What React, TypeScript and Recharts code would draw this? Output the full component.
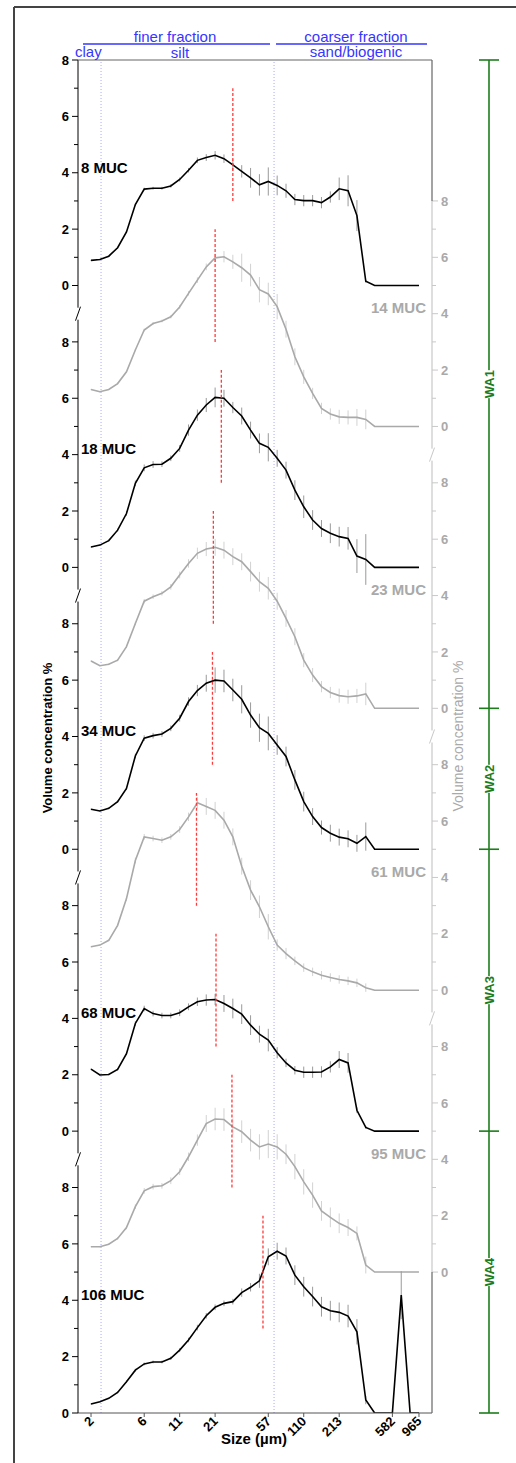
import { LineChart, Line, XAxis, YAxis, ErrorBar, ReferenceLine } from 'recharts'

// x positions are size-bin indices (log-spaced bins, 2 µm .. 965 µm)
const sizeTicks = [0, 6, 10, 14, 20, 24, 28, 34, 37]
const sizeLabels = ['2', '6', '11', '21', '57', '110', '213', '582', '965']
const fractionBounds = [1.13, 20.65] // clay|silt, silt|sand (bin index)

const muc8 = [0.89, 0.92, 1.04, 1.34, 1.9, 2.87, 3.42, 3.45, 3.45, 3.53, 3.76, 4.09, 4.44, 4.54, 4.62, 4.5, 4.28, 4.05, 3.82, 3.57, 3.69, 3.55, 3.36, 3.05, 3.01, 3.01, 2.94, 3.14, 3.43, 3.36, 2.48, 0.15, 0, 0, 0, 0, 0, 0]
const err8 = [0.02, 0.02, 0.02, 0.03, 0.03, 0.04, 0.05, 0.05, 0.05, 0.06, 0.07, 0.08, 0.1, 0.12, 0.15, 0.15, 0.2, 0.22, 0.35, 0.38, 0.5, 0.35, 0.25, 0.2, 0.2, 0.2, 0.2, 0.2, 0.4, 0.55, 0.55, 0.05, 0, 0, 0, 0, 0, 0]
const muc14 = [1.31, 1.23, 1.31, 1.52, 1.94, 2.71, 3.42, 3.65, 3.74, 3.89, 4.24, 4.72, 5.19, 5.66, 5.98, 6.02, 5.84, 5.63, 5.37, 4.85, 4.7, 4.25, 3.45, 2.47, 1.76, 1.17, 0.64, 0.44, 0.34, 0.32, 0.32, 0.25, 0, 0, 0, 0, 0, 0]
const err14 = [0.02, 0.02, 0.02, 0.03, 0.03, 0.04, 0.05, 0.05, 0.05, 0.06, 0.07, 0.08, 0.1, 0.12, 0.15, 0.2, 0.25, 0.5, 0.4, 0.45, 0.4, 0.45, 0.3, 0.3, 0.25, 0.2, 0.2, 0.2, 0.25, 0.25, 0.3, 0.35, 0, 0, 0, 0, 0, 0]
const muc18 = [0.72, 0.79, 0.95, 1.32, 1.91, 2.98, 3.53, 3.65, 3.66, 3.87, 4.22, 4.87, 5.4, 5.76, 6.03, 6.0, 5.67, 5.37, 4.87, 4.4, 4.26, 3.87, 3.45, 2.74, 2.15, 1.68, 1.38, 1.21, 1.09, 1.03, 0.4, 0.28, 0, 0, 0, 0, 0, 0]
const err18 = [0.02, 0.02, 0.03, 0.05, 0.08, 0.1, 0.12, 0.12, 0.1, 0.1, 0.12, 0.2, 0.2, 0.25, 0.35, 0.3, 0.2, 0.3, 0.3, 0.35, 0.5, 0.3, 0.3, 0.35, 0.4, 0.35, 0.3, 0.35, 0.35, 0.4, 0.6, 0.9, 0, 0, 0, 0, 0, 0]
const muc23 = [1.68, 1.51, 1.56, 1.71, 2.19, 3.01, 3.8, 3.96, 4.08, 4.31, 4.73, 5.14, 5.5, 5.65, 5.71, 5.61, 5.38, 5.2, 4.85, 4.49, 4.26, 3.8, 3.19, 2.54, 1.71, 1.18, 0.77, 0.56, 0.45, 0.41, 0.44, 0.51, 0, 0, 0, 0, 0, 0]
const err23 = [0.02, 0.02, 0.03, 0.04, 0.05, 0.06, 0.08, 0.08, 0.08, 0.1, 0.12, 0.15, 0.2, 0.25, 0.3, 0.3, 0.3, 0.3, 0.35, 0.35, 0.4, 0.3, 0.3, 0.3, 0.25, 0.25, 0.2, 0.2, 0.25, 0.25, 0.25, 0.4, 0, 0, 0, 0, 0, 0]
const muc34 = [1.42, 1.36, 1.45, 1.69, 2.16, 3.31, 3.94, 4.03, 4.09, 4.29, 4.65, 5.24, 5.63, 5.89, 6.0, 5.97, 5.65, 5.32, 4.76, 4.31, 4.11, 3.7, 3.29, 2.46, 1.69, 1.16, 0.77, 0.57, 0.43, 0.37, 0.21, 0.45, 0, 0, 0, 0, 0, 0]
const err34 = [0.02, 0.02, 0.03, 0.04, 0.06, 0.08, 0.1, 0.1, 0.1, 0.1, 0.12, 0.15, 0.2, 0.3, 0.45, 0.4, 0.4, 0.5, 0.45, 0.5, 0.6, 0.35, 0.35, 0.35, 0.35, 0.3, 0.25, 0.3, 0.3, 0.3, 0.3, 0.5, 0, 0, 0, 0, 0, 0]
const muc61 = [1.54, 1.6, 1.77, 2.3, 3.25, 4.6, 5.44, 5.38, 5.32, 5.44, 5.7, 6.15, 6.65, 6.52, 6.38, 6.03, 5.44, 4.4, 3.55, 2.96, 2.25, 1.6, 1.3, 1.04, 0.8, 0.65, 0.53, 0.45, 0.38, 0.33, 0.26, 0.09, 0, 0, 0, 0, 0, 0]
const err61 = [0.02, 0.02, 0.03, 0.05, 0.08, 0.1, 0.1, 0.1, 0.1, 0.1, 0.12, 0.15, 0.2, 0.3, 0.3, 0.3, 0.3, 0.3, 0.35, 0.4, 0.45, 0.2, 0.2, 0.15, 0.15, 0.15, 0.15, 0.15, 0.15, 0.15, 0.15, 0.15, 0, 0, 0, 0, 0, 0]
const muc68 = [2.2, 1.99, 2.01, 2.19, 2.75, 3.82, 4.35, 4.17, 4.1, 4.1, 4.2, 4.41, 4.59, 4.65, 4.67, 4.53, 4.35, 4.15, 3.76, 3.44, 3.23, 2.78, 2.42, 2.16, 2.09, 2.09, 2.1, 2.28, 2.54, 2.42, 0.74, 0.13, 0, 0, 0, 0, 0, 0]
const err68 = [0.02, 0.02, 0.03, 0.04, 0.05, 0.08, 0.1, 0.1, 0.1, 0.1, 0.12, 0.12, 0.15, 0.2, 0.2, 0.3, 0.35, 0.35, 0.35, 0.3, 0.4, 0.2, 0.15, 0.15, 0.2, 0.2, 0.2, 0.2, 0.3, 0.35, 0.1, 0.05, 0, 0, 0, 0, 0, 0]
const muc95 = [0.9, 0.9, 0.99, 1.19, 1.58, 2.32, 2.88, 3.03, 3.06, 3.24, 3.56, 4.09, 4.68, 5.27, 5.43, 5.41, 5.15, 4.98, 4.68, 4.44, 4.54, 4.44, 4.18, 3.74, 3.2, 2.73, 2.17, 1.94, 1.73, 1.58, 1.37, 0.25, 0, 0, 0, 0, 0, 0]
const err95 = [0.02, 0.02, 0.03, 0.04, 0.06, 0.08, 0.1, 0.1, 0.1, 0.12, 0.12, 0.15, 0.2, 0.3, 0.4, 0.4, 0.3, 0.4, 0.4, 0.45, 0.5, 0.45, 0.35, 0.45, 0.45, 0.45, 0.35, 0.35, 0.35, 0.3, 0.25, 0.3, 0, 0, 0, 0, 0, 0]
const muc106 = [0.32, 0.4, 0.52, 0.73, 1.11, 1.52, 1.74, 1.81, 1.81, 1.94, 2.23, 2.59, 3.03, 3.45, 3.75, 3.89, 3.95, 4.27, 4.46, 4.69, 5.54, 5.74, 5.57, 4.89, 4.48, 4.13, 3.77, 3.63, 3.57, 3.44, 2.88, 0.46, 0, 0, 0, 4.18, 0, 0]
const err106 = [0.02, 0.02, 0.02, 0.03, 0.04, 0.05, 0.05, 0.05, 0.05, 0.06, 0.07, 0.08, 0.1, 0.1, 0.1, 0.1, 0.1, 0.15, 0.15, 0.25, 0.3, 0.3, 0.3, 0.35, 0.35, 0.35, 0.35, 0.35, 0.35, 0.4, 0.45, 0.15, 0, 0, 0, 0.85, 0, 0]

// median grain size (bin index), one per core
const medians = [16.0, 14.0, 14.7, 13.8, 13.7, 11.9, 14.1, 15.9, 19.4]

const waNames = ['WA1', 'WA2', 'WA3', 'WA4']
const waBounds = [48, 25, 20, 10, 0]

// stacking: black cores on left axis, grey cores on right axis
const series = [
  { key: 'm8', name: '8 MUC', values: muc8, errors: err8, offset: 40, gray: false },
  { key: 'm14', name: '14 MUC', values: muc14, errors: err14, offset: 35, gray: true },
  { key: 'm18', name: '18 MUC', values: muc18, errors: err18, offset: 30, gray: false },
  { key: 'm23', name: '23 MUC', values: muc23, errors: err23, offset: 25, gray: true },
  { key: 'm34', name: '34 MUC', values: muc34, errors: err34, offset: 20, gray: false },
  { key: 'm61', name: '61 MUC', values: muc61, errors: err61, offset: 15, gray: true },
  { key: 'm68', name: '68 MUC', values: muc68, errors: err68, offset: 10, gray: false },
  { key: 'm95', name: '95 MUC', values: muc95, errors: err95, offset: 5, gray: true },
  { key: 'm106', name: '106 MUC', values: muc106, errors: err106, offset: 0, gray: false },
]

const data = muc8.map((_, i) => {
  const row: Record<string, number> = { i }
  series.forEach(s => {
    row[s.key] = s.values[i] + s.offset
    row[s.key + 'e'] = s.errors[i]
  })
  return row
})

const W = 516
const H = 1463
const PLOT = { left: 78, right: 432, top: 60, bottom: 1413 }
const Y_MAX = 48
const yPx = (v: number) => PLOT.top + ((Y_MAX - v) / Y_MAX) * (PLOT.bottom - PLOT.top)

const leftOffsets = [0, 10, 20, 30, 40]
const rightOffsets = [5, 15, 25, 35]
const leftTicks = leftOffsets.flatMap(o => [0, 1, 2, 3, 4, 5, 6, 7, 8].map(v => o + v))
const rightTicks = rightOffsets.flatMap(o => [0, 1, 2, 3, 4, 5, 6, 7, 8].map(v => o + v))

const FONT = '"Liberation Sans", Arial, Helvetica, sans-serif'
const GRAY = '#a9a9a9'
const LIGHT = '#c8c8c8'
const BLUE = '#3636ff'
const GREEN = '#1d7d1d'

function LeftTick(props: any) {
  const { x, y, payload } = props
  const local = Math.round(payload.value) % 10
  const ax = x + 9
  const major = local % 2 === 0
  return (
    <g>
      <line x1={ax - (major ? 6 : 4)} x2={ax} y1={y} y2={y} stroke="#000" strokeWidth={1} />
      {major && (
        <text x={x} y={y} dy="0.36em" textAnchor="end" fontSize={13} fontWeight="bold" fill="#000" fontFamily={FONT}>
          {local}
        </text>
      )}
    </g>
  )
}

function RightTick(props: any) {
  const { x, y, payload } = props
  const local = (((Math.round(payload.value) - 5) % 10) + 10) % 10
  const ax = x - 9
  const major = local % 2 === 0
  return (
    <g>
      <line x1={ax} x2={ax + (major ? 6 : 4)} y1={y} y2={y} stroke={LIGHT} strokeWidth={1} />
      {major && (
        <text x={x} y={y} dy="0.36em" textAnchor="start" fontSize={13} fontWeight="bold" fill={GRAY} fontFamily={FONT}>
          {local}
        </text>
      )}
    </g>
  )
}

function SizeTick(props: any) {
  const { x, y, payload } = props
  const label = sizeLabels[sizeTicks.indexOf(payload.value)]
  const ax = x + 3.5
  const ay = y + 5
  return (
    <g>
      <line x1={x} x2={x} y1={y - 4} y2={y} stroke="#555" strokeWidth={1} />
      <text x={ax} y={ay} textAnchor="end" fontSize={13} fontWeight="bold" fill="#000" fontFamily={FONT}
        transform={`rotate(-45 ${ax} ${ay})`}>
        {label}
      </text>
    </g>
  )
}

function Break({ x, v, color }: { x: number; v: number; color: string }) {
  const y = yPx(v)
  return (
    <g>
      <rect x={x - 3} y={y - 6} width={6} height={12} fill="#fff" />
      <line x1={x - 2.5} y1={y + 7} x2={x + 2.5} y2={y - 7} stroke={color} strokeWidth={1} />
    </g>
  )
}

export default function App() {
  return (
    <div style={{ position: 'absolute', left: 0, top: 0, width: W, height: H, background: '#fff', fontFamily: FONT, overflow: 'hidden' }}>
      <LineChart width={W} height={H} data={data} margin={{ top: 60, right: 54, bottom: 0, left: 48 }}>
        <XAxis
          dataKey="i"
          type="number"
          domain={[-1.47, 38.47]}
          allowDataOverflow
          ticks={sizeTicks}
          interval={0}
          height={50}
          tickSize={4}
          tickMargin={0}
          tickLine={false}
          axisLine={{ stroke: '#555', strokeWidth: 1 }}
          tick={<SizeTick />}
        />
        <YAxis
          yAxisId="left"
          orientation="left"
          type="number"
          domain={[0, Y_MAX]}
          allowDataOverflow
          ticks={leftTicks}
          interval={0}
          width={30}
          tickSize={6}
          tickMargin={3}
          tickLine={false}
          axisLine={{ stroke: '#000', strokeWidth: 1 }}
          tick={<LeftTick />}
        />
        <YAxis
          yAxisId="right"
          orientation="right"
          type="number"
          domain={[0, Y_MAX]}
          allowDataOverflow
          ticks={rightTicks}
          interval={0}
          width={30}
          tickSize={6}
          tickMargin={3}
          tickLine={false}
          axisLine={false}
          tick={<RightTick />}
        />
        {fractionBounds.map(b => (
          <ReferenceLine key={'fb' + b} yAxisId="left" x={b} stroke="#a9a9ff" strokeWidth={1} strokeDasharray="1 2" />
        ))}
        {series.map(s => (
          <Line
            key={s.key}
            yAxisId={s.gray ? 'right' : 'left'}
            dataKey={s.key}
            type="linear"
            stroke={s.gray ? GRAY : '#000'}
            strokeWidth={1.6}
            dot={false}
            activeDot={false}
            isAnimationActive={false}
          >
            <ErrorBar dataKey={s.key + 'e'} width={0} stroke={s.gray ? '#d2d2d2' : '#9a9a9a'} strokeWidth={1} direction="y" />
          </Line>
        ))}
        {series.map((s, k) => (
          <ReferenceLine
            key={'med' + s.key}
            yAxisId={s.gray ? 'right' : 'left'}
            segment={[{ x: medians[k], y: s.offset + 3 }, { x: medians[k], y: s.offset + 7 }]}
            stroke="#ff3a3a"
            strokeWidth={1.3}
            strokeDasharray="3 2"
            ifOverflow="visible"
          />
        ))}
      </LineChart>

      <svg width={W} height={H} style={{ position: 'absolute', left: 0, top: 0, pointerEvents: 'none' }} fontFamily={FONT}>
        {/* outer frame */}
        <line x1={14} y1={7} x2={W} y2={7} stroke="#444" strokeWidth={2} />
        <line x1={14} y1={7} x2={14} y2={H} stroke="#444" strokeWidth={2} />

        {/* plot box top + right edge */}
        <line x1={PLOT.left} y1={PLOT.top} x2={PLOT.right} y2={PLOT.top} stroke="#666" strokeWidth={1.2} />
        <line x1={PLOT.right} y1={PLOT.top} x2={PLOT.right} y2={yPx(43)} stroke="#666" strokeWidth={1.2} />
        <line x1={PLOT.right} y1={yPx(43)} x2={PLOT.right} y2={yPx(5)} stroke={LIGHT} strokeWidth={1.2} />
        <line x1={PLOT.right} y1={yPx(5)} x2={PLOT.right} y2={PLOT.bottom} stroke="#666" strokeWidth={1.2} />

        {/* axis breaks */}
        {[39, 29, 19, 9].map(v => <Break key={'lb' + v} x={PLOT.left} v={v} color="#000" />)}
        {[34, 24, 14].map(v => <Break key={'rb' + v} x={PLOT.right} v={v} color={LIGHT} />)}

        {/* fraction header */}
        <text x={175} y={42} textAnchor="middle" fontSize={15} fill={BLUE}>finer fraction</text>
        <line x1={83} y1={44} x2={270} y2={44} stroke={BLUE} strokeWidth={1.5} />
        <text x={356} y={42} textAnchor="middle" fontSize={15} fill={BLUE}>coarser fraction</text>
        <line x1={276} y1={44} x2={427} y2={44} stroke={BLUE} strokeWidth={1.5} />
        <text x={75} y={57} fontSize={15} fill={BLUE}>clay</text>
        <text x={180} y={58} textAnchor="middle" fontSize={15} fill={BLUE}>silt</text>
        <text x={356} y={57} textAnchor="middle" fontSize={15} fill={BLUE}>sand/biogenic</text>

        {/* core labels */}
        {series.map(s =>
          s.gray ? (
            <text key={'lab' + s.key} x={426} y={yPx(s.offset + 4.2)} dy="0.36em" textAnchor="end" fontSize={15} fontWeight="bold" fill={GRAY}>
              {s.name}
            </text>
          ) : (
            <text key={'lab' + s.key} x={81} y={yPx(s.offset + 4.2)} dy="0.36em" textAnchor="start" fontSize={15} fontWeight="bold" fill="#000">
              {s.name}
            </text>
          )
        )}

        {/* axis titles */}
        <text x={47} y={738} textAnchor="middle" dy="0.36em" fontSize={13} fontWeight="bold" fill="#000" transform="rotate(-90 47 738)">
          Volume concentration %
        </text>
        <text x={458} y={736} textAnchor="middle" dy="0.36em" fontSize={14} fill={GRAY} transform="rotate(-90 458 736)">
          Volume concentration %
        </text>
        <text x={254} y={1444} textAnchor="middle" fontSize={15} fontWeight="bold" fill="#000">Size (µm)</text>

        {/* WA zones */}
        <line x1={489} y1={yPx(waBounds[0])} x2={489} y2={yPx(waBounds[waBounds.length - 1])} stroke={GREEN} strokeWidth={1.6} />
        {waBounds.map(b => (
          <line key={'wab' + b} x1={479} x2={499} y1={yPx(b)} y2={yPx(b)} stroke={GREEN} strokeWidth={1.6} />
        ))}
        {waNames.map((n, k) => {
          const cy = yPx((waBounds[k] + waBounds[k + 1]) / 2)
          return (
            <g key={n}>
              <rect x={482} y={cy - 14} width={14} height={28} fill="#fff" />
              <text x={489} y={cy} dy="0.36em" textAnchor="middle" fontSize={13} fontWeight="bold" fill={GREEN} transform={`rotate(-90 489 ${cy})`}>
                {n}
              </text>
            </g>
          )
        })}
      </svg>
    </div>
  )
}
